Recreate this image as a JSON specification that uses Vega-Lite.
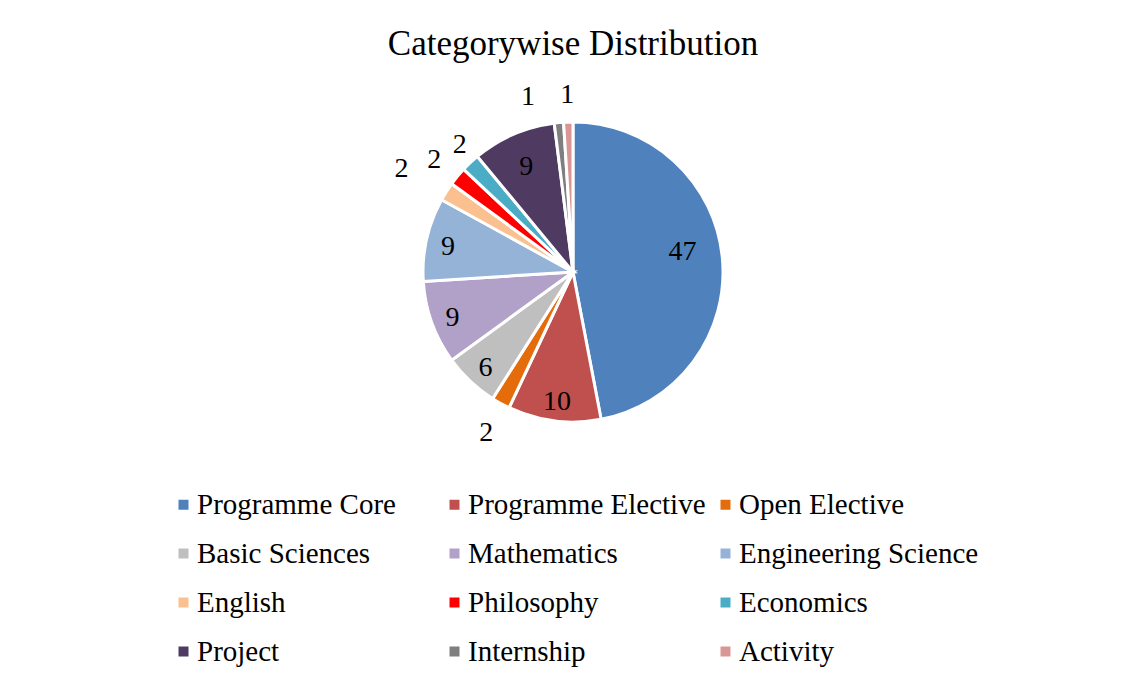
{
  "$schema": "https://vega.github.io/schema/vega-lite/v6.json",
  "autosize": {"type": "none"},
  "padding": {"left": 20, "top": 80, "right": 1, "bottom": 217},
  "width": 1106,
  "height": 384,
  "background": "white",
  "title": {
    "text": "Categorywise Distribution",
    "font": "Liberation Serif",
    "fontSize": 35,
    "fontWeight": "normal",
    "color": "#000000",
    "anchor": "middle",
    "frame": "group",
    "baseline": "alphabetic",
    "offset": -29
  },
  "config": {"view": {"stroke": null}},
  "data": {
    "values": [
      {"category": "Programme Core", "value": 47, "order": 1},
      {"category": "Programme Elective", "value": 10, "order": 2},
      {"category": "Open Elective", "value": 2, "order": 3},
      {"category": "Basic Sciences", "value": 6, "order": 4},
      {"category": "Mathematics", "value": 9, "order": 5},
      {"category": "Engineering Science", "value": 9, "order": 6},
      {"category": "English", "value": 2, "order": 7},
      {"category": "Philosophy", "value": 2, "order": 8},
      {"category": "Economics", "value": 2, "order": 9},
      {"category": "Project", "value": 9, "order": 10},
      {"category": "Internship", "value": 1, "order": 11},
      {"category": "Activity", "value": 1, "order": 12}
    ]
  },
  "encoding": {
    "theta": {"field": "value", "type": "quantitative", "stack": true},
    "order": {"field": "order", "type": "quantitative"}
  },
  "layer": [
    {
      "mark": {"type": "arc", "outerRadius": 150, "stroke": "white", "strokeWidth": 3},
      "encoding": {
        "color": {
          "field": "category",
          "type": "nominal",
          "sort": null,
          "scale": {
            "domain": ["Programme Core", "Programme Elective", "Open Elective", "Basic Sciences", "Mathematics", "Engineering Science", "English", "Philosophy", "Economics", "Project", "Internship", "Activity"],
            "range": ["#4F81BD", "#C0504D", "#E46C0A", "#BFBFBF", "#B1A0C7", "#95B3D7", "#FAC090", "#FF0000", "#4BACC6", "#4F3B62", "#7F7F7F", "#D99694"]
          },
          "legend": {
            "title": null,
            "orient": "none",
            "legendX": 149,
            "legendY": 410,
            "direction": "horizontal",
            "columns": 3,
            "gridAlign": "all",
            "columnPadding": 3,
            "rowPadding": 19,
            "symbolType": "square",
            "symbolSize": 100,
            "symbolStrokeWidth": 0,
            "symbolOpacity": 1,
            "labelOffset": -1,
            "labelFont": "Liberation Serif",
            "labelFontSize": 29,
            "labelColor": "#000000",
            "labelLimit": 400
          }
        }
      }
    },
    {
      "mark": {"type": "text", "radius": 128, "dy": 3, "font": "Liberation Serif", "fontSize": 28, "color": "#000000", "align": "center", "baseline": "middle"},
      "encoding": {
        "text": {"condition": {"test": "datum.value >= 5 && datum.category != 'Programme Core' && datum.category != 'Project'", "field": "value", "type": "quantitative"}, "value": ""}
      }
    },
    {
      "mark": {"type": "text", "radius": 118, "dy": 3, "font": "Liberation Serif", "fontSize": 28, "color": "#000000", "align": "center", "baseline": "middle"},
      "encoding": {
        "text": {"condition": {"test": "datum.category == 'Project'", "field": "value", "type": "quantitative"}, "value": ""}
      }
    },
    {
      "mark": {"type": "text", "radius": 110, "dy": -10, "font": "Liberation Serif", "fontSize": 28, "color": "#000000", "align": "center", "baseline": "middle"},
      "encoding": {
        "text": {"condition": {"test": "datum.category == 'Programme Core'", "field": "value", "type": "quantitative"}, "value": ""}
      }
    },
    {
      "mark": {"type": "text", "radius": 180, "dy": 3, "font": "Liberation Serif", "fontSize": 28, "color": "#000000", "align": "center", "baseline": "middle"},
      "encoding": {
        "text": {"condition": {"test": "datum.value < 5 && datum.category != 'English' && datum.category != 'Internship' && datum.category != 'Economics'", "field": "value", "type": "quantitative"}, "value": ""}
      }
    },
    {
      "mark": {"type": "text", "radius": 170, "dx": 3, "dy": -3, "font": "Liberation Serif", "fontSize": 28, "color": "#000000", "align": "center", "baseline": "middle"},
      "encoding": {
        "text": {"condition": {"test": "datum.category == 'Economics'", "field": "value", "type": "quantitative"}, "value": ""}
      }
    },
    {
      "mark": {"type": "text", "radius": 203, "dy": 6, "font": "Liberation Serif", "fontSize": 28, "color": "#000000", "align": "center", "baseline": "middle"},
      "encoding": {
        "text": {"condition": {"test": "datum.category == 'English'", "field": "value", "type": "quantitative"}, "value": ""}
      }
    },
    {
      "mark": {"type": "text", "radius": 180, "dx": -28, "dy": 4, "font": "Liberation Serif", "fontSize": 28, "color": "#000000", "align": "center", "baseline": "middle"},
      "encoding": {
        "text": {"condition": {"test": "datum.category == 'Internship'", "field": "value", "type": "quantitative"}, "value": ""}
      }
    }
  ]
}
